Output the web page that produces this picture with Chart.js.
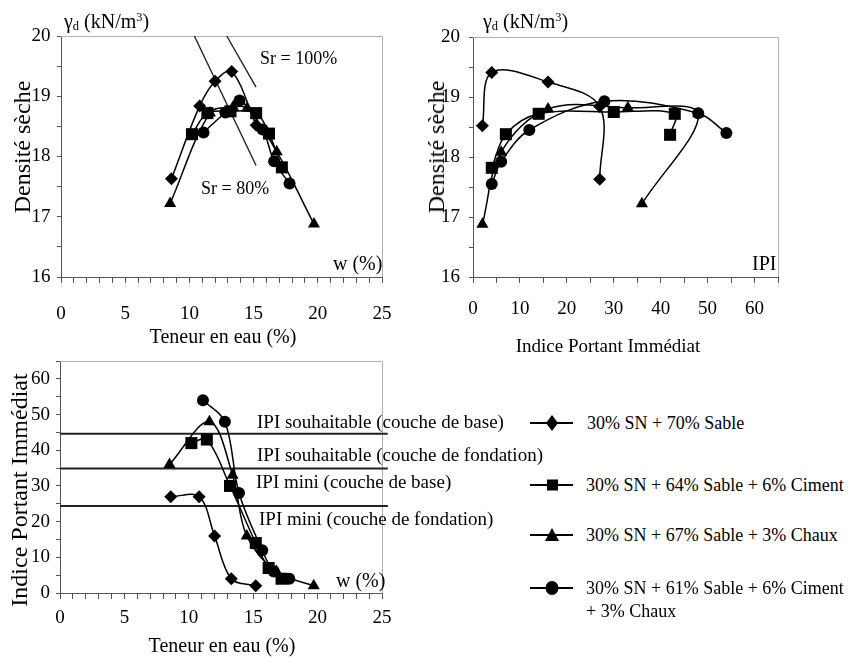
<!DOCTYPE html>
<html><head><meta charset="utf-8">
<script src="https://cdn.jsdelivr.net/npm/chart.js@4"></script>
<style>
html,body{margin:0;padding:0;background:#fff;}
body{width:848px;height:657px;position:relative;overflow:hidden;font-family:"Liberation Serif","Times New Roman",serif;color:#000;}
canvas{position:absolute;}
.t{position:absolute;white-space:nowrap;line-height:1;z-index:5;}
.t sub{font-size:0.62em;vertical-align:-0.2em;line-height:0;}
.t sup{font-size:0.62em;vertical-align:0.55em;line-height:0;}
.rot{transform:translate(-50%,-50%) rotate(-90deg);}
.ctr{transform:translate(-50%,-50%);}
.lg{position:absolute;left:530px;z-index:5;}
.lg svg{position:absolute;left:0;top:-10px;}
.lg span{position:absolute;left:56px;top:-9px;font-size:18px;line-height:1;white-space:nowrap;}
</style></head><body>
<canvas id="c1" width="412" height="330" style="left:0;top:0"></canvas>
<canvas id="c2" width="438" height="330" style="left:410px;top:0"></canvas>
<canvas id="c3" width="400" height="314" style="left:0;top:343px"></canvas>

<div class="t" style="left:64px;top:11px;font-size:20px">γ<sub>d</sub> (kN/m<sup>3</sup>)</div>
<div class="t" style="left:483px;top:11px;font-size:20px">γ<sub>d</sub> (kN/m<sup>3</sup>)</div>
<div class="t" style="left:333px;top:253px;font-size:20px">w (%)</div>
<div class="t" style="left:752px;top:253px;font-size:20px">IPI</div>
<div class="t" style="left:260px;top:49px;font-size:18px">Sr = 100%</div>
<div class="t" style="left:201px;top:179px;font-size:18px">Sr = 80%</div>
<div class="t rot" style="left:22px;top:147px;font-size:24px">Densité sèche</div>
<div class="t rot" style="left:436px;top:147px;font-size:24px">Densité sèche</div>
<div class="t ctr" style="left:223px;top:336px;font-size:20px">Teneur en eau (%)</div>
<div class="t ctr" style="left:608px;top:345px;font-size:19px">Indice Portant Immédiat</div>

<div class="t rot" style="left:19px;top:490px;font-size:24px">Indice Portant Immédiat</div>
<div class="t ctr" style="left:222px;top:645px;font-size:20px">Teneur en eau (%)</div>
<div class="t" style="left:257px;top:412px;font-size:19px">IPI souhaitable (couche de base)</div>
<div class="t" style="left:257px;top:445px;font-size:19px">IPI souhaitable (couche de fondation)</div>
<div class="t" style="left:256px;top:472px;font-size:19px">IPI mini (couche de base)</div>
<div class="t" style="left:259px;top:509px;font-size:19px">IPI mini (couche de fondation)</div>
<div class="t" style="left:336px;top:570px;font-size:20px">w (%)</div>

<div class="lg" style="top:423px"><svg width="46" height="20"><line x1="0" y1="10" x2="43" y2="10" stroke="#000" stroke-width="2"/><polygon points="22,2 28,10 22,18 16,10" fill="#000"/></svg><span style="left:57px">30% SN + 70% Sable</span></div>
<div class="lg" style="top:485px"><svg width="46" height="20"><line x1="0" y1="10" x2="43" y2="10" stroke="#000" stroke-width="2"/><rect x="17" y="4.5" width="11" height="11" fill="#000"/></svg><span>30% SN + 64% Sable + 6% Ciment</span></div>
<div class="lg" style="top:535px"><svg width="46" height="20"><line x1="0" y1="10" x2="43" y2="10" stroke="#000" stroke-width="2"/><polygon points="22,3 29,16 15,16" fill="#000"/></svg><span>30% SN + 67% Sable + 3% Chaux</span></div>
<div class="lg" style="top:588px"><svg width="46" height="20"><line x1="0" y1="10" x2="43" y2="10" stroke="#000" stroke-width="2"/><ellipse cx="22" cy="10" rx="6.5" ry="7" fill="#000"/></svg><span>30% SN + 61% Sable + 6% Ciment</span></div>
<div class="lg" style="top:611px"><span>+ 3% Chaux</span></div>

<script>
// ---- data ----
const diamondW = [8.6, 10.8, 12.0, 13.3, 15.2];
const diamondDensity = [17.63, 18.84, 19.25, 19.41, 18.52];
const diamondIPI = [27, 27, 16, 4, 2];

const squareW = [10.2, 11.4, 13.2, 15.2, 16.2, 17.2];
const squareDensity = [18.37, 18.72, 18.75, 18.72, 18.38, 17.82];
const squareIPI = [42, 43, 30, 14, 7, 4];

const triangleW = [8.5, 11.6, 13.4, 14.5, 16.8, 19.7];
const triangleDensity = [17.22, 18.72, 18.82, 18.8, 18.08, 16.88];
const triangleIPI = [36, 48, 33, 16, 6, 2];

const circleW = [11.1, 12.8, 13.9, 15.7, 16.6, 17.8];
const circleDensity = [18.4, 18.73, 18.93, 18.45, 17.92, 17.55];
const circleIPI = [54, 48, 28, 12, 6, 4];

const sr80W = [10.39, 15.19];
const sr80Density = [20, 17.85];
const sr100W = [12.91, 15.19];
const sr100Density = [20, 19.15];

const ipiThresholds = [44.6, 34.9, 24.4];
const thresholdW = [0, 25.45];

// ---- helpers ----
Chart.defaults.font.family = '"Liberation Serif","Times New Roman",serif';
Chart.defaults.color = '#000';

const pts = (xs, ys) => xs.map((x, i) => ({x: x, y: ys[i]}));
const seriesStyles = [
  {style: 'rectRot', r: 6.5},
  {style: 'rect', r: 8.5},
  {style: 'triangle', r: 7},
  {style: 'circle', r: 6}
];
function ds(data, k) {
  return {data: data, showLine: true, tension: 0.35, borderColor: '#000', backgroundColor: '#000',
    borderWidth: 1.5, pointStyle: seriesStyles[k].style, pointRadius: seriesStyles[k].r,
    pointBorderWidth: 0, pointBackgroundColor: '#000'};
}
function plainLine(data, w) {
  return {data: data, showLine: true, tension: 0, borderColor: '#222', borderWidth: w, pointRadius: 0, clip: false};
}
const boxPlugin = {id: 'box', beforeDatasetsDraw(chart) {
  const ctx = chart.ctx, a = chart.chartArea;
  ctx.save(); ctx.strokeStyle = '#b0b0b0'; ctx.lineWidth = 1;
  ctx.beginPath(); ctx.moveTo(a.left, a.top + 0.5); ctx.lineTo(a.right + 0.5, a.top + 0.5); ctx.lineTo(a.right + 0.5, a.bottom); ctx.stroke();
  ctx.restore();
}};
function xAxis(min, max, step, every, pad, h) {
  return {type: 'linear', position: 'bottom', min: min, max: max,
    ticks: {stepSize: step, autoSkip: false, maxRotation: 0, minRotation: 0, padding: pad, color: '#000', font: {size: 19},
      callback: v => (Math.abs(v % every) < 1e-9 ? String(v) : '')},
    grid: {drawOnChartArea: false, drawTicks: true, tickLength: 6, color: '#555'},
    border: {display: true, color: '#555', width: 1},
    afterFit: s => { s.height = h; }};
}
function yAxis(min, max, step, every, pad, w) {
  return {type: 'linear', position: 'left', min: min, max: max,
    ticks: {stepSize: step, autoSkip: false, padding: pad, color: '#000', font: {size: 19},
      callback: v => (Math.abs(v % every) < 1e-9 ? String(v) : '')},
    grid: {drawOnChartArea: false, drawTicks: true, tickLength: 4, color: '#555'},
    border: {display: true, color: '#555', width: 1},
    afterFit: s => { s.width = w; }};
}
function baseOpts(padding, x, y) {
  return {responsive: false, animation: false, devicePixelRatio: 1, events: [],
    layout: {padding: padding},
    plugins: {legend: {display: false}, tooltip: {enabled: false}},
    scales: {x: x, y: y}};
}

// ---- panel 1 : density vs water content ----
new Chart(document.getElementById('c1'), {
  type: 'scatter',
  data: {datasets: [
    ds(pts(diamondW, diamondDensity), 0),
    ds(pts(squareW, squareDensity), 1),
    ds(pts(triangleW, triangleDensity), 2),
    ds(pts(circleW, circleDensity), 3),
    plainLine(pts(sr80W, sr80Density), 1.4),
    plainLine(pts(sr100W, sr100Density), 1.4)
  ]},
  options: baseOpts({top: 36, left: 0, right: 30, bottom: 0},
    xAxis(0, 25, 1, 5, 20, 53), yAxis(16, 20, 0.5, 1, 6.5, 61)),
  plugins: [boxPlugin]
});

// ---- panel 2 : density vs IPI ----
new Chart(document.getElementById('c2'), {
  type: 'scatter',
  data: {datasets: [
    ds(pts(diamondIPI, diamondDensity), 0),
    ds(pts(squareIPI, squareDensity), 1),
    ds(pts(triangleIPI, triangleDensity), 2),
    ds(pts(circleIPI, circleDensity), 3)
  ]},
  options: baseOpts({top: 37, left: 0, right: 70, bottom: 0},
    xAxis(0, 65, 5, 10, 15, 53), yAxis(16, 20, 0.5, 1, 9, 63)),
  plugins: [boxPlugin]
});

// ---- panel 3 : IPI vs water content ----
new Chart(document.getElementById('c3'), {
  type: 'scatter',
  data: {datasets: [
    ds(pts(diamondW, diamondIPI), 0),
    ds(pts(squareW, squareIPI), 1),
    ds(pts(triangleW, triangleIPI), 2),
    ds(pts(circleW, circleIPI), 3),
    plainLine(pts(thresholdW, [ipiThresholds[0], ipiThresholds[0]]), 2),
    plainLine(pts(thresholdW, [ipiThresholds[1], ipiThresholds[1]]), 2),
    plainLine(pts(thresholdW, [ipiThresholds[2], ipiThresholds[2]]), 2)
  ]},
  options: baseOpts({top: 18, left: 0, right: 18, bottom: 0},
    xAxis(0, 25, 1, 5, 8, 64), yAxis(0, 65, 5, 10, 6, 60)),
  plugins: [boxPlugin]
});
</script>
</body></html>
